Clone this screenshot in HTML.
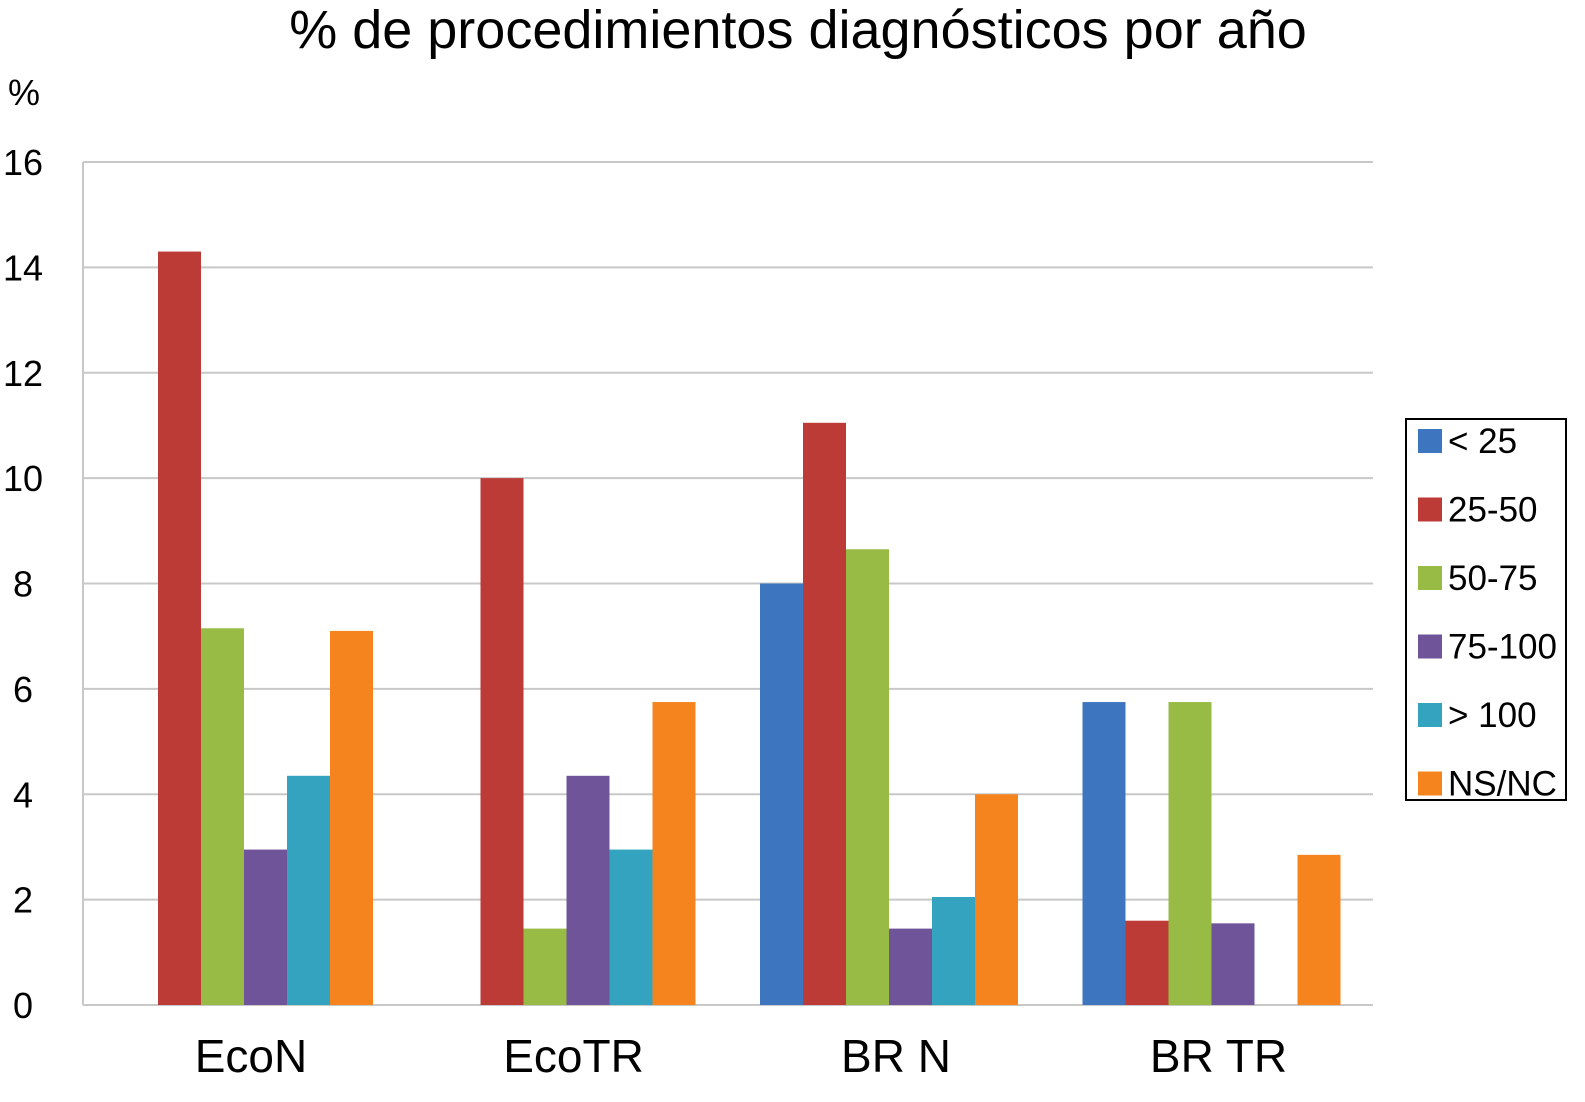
<!DOCTYPE html>
<html><head><meta charset="utf-8"><style>
body{margin:0;background:#fff;}
svg text{font-family:"Liberation Sans",sans-serif;fill:#000;}
</style></head><body>
<svg id="chart" width="1585" height="1097" xmlns="http://www.w3.org/2000/svg">
<text x="798" y="48" font-size="54" text-anchor="middle">% de procedimientos diagnósticos por año</text>
<text x="8" y="105" font-size="36">%</text>
<g id="grid"></g><g id="bars"></g><g id="xlabels"></g>
<g>
<rect x="1406" y="419" width="160" height="381" fill="#fff" stroke="#000" stroke-width="2"/>
<g id="legend"></g></g>
</svg>
<script>
const categories=["EcoN","EcoTR","BR N","BR TR"];
const seriesNames=["< 25","25-50","50-75","75-100","> 100","NS/NC"];
const s1=[0,0,8.0,5.75];
const s2=[14.3,10.0,11.05,1.6];
const s3=[7.15,1.45,8.65,5.75];
const s4=[2.95,4.35,1.45,1.55];
const s5=[4.35,2.95,2.05,0];
const s6=[7.1,5.75,4.0,2.85];
const yTicks=[0,2,4,6,8,10,12,14,16];
const series=[s1,s2,s3,s4,s5,s6];
const colors=["#3d76bf","#bd3b37","#97bb45","#70549a","#33a3c0","#f5841f"];
const NS="http://www.w3.org/2000/svg";
const x0=83,x1=1373,yb=1005,yt=162,ymax=16;
const y=v=>yb-(v/ymax)*(yb-yt);
const gw=(x1-x0)/categories.length,bw=43;
const gx=i=>x0+i*gw+32;
function mk(t,a,p){const e=document.createElementNS(NS,t);for(const k in a)e.setAttribute(k,a[k]);p.appendChild(e);return e;}
const grid=document.getElementById('grid');
yTicks.forEach(t=>{
 const l=mk('line',{x1:x0,x2:x1,y1:y(t),y2:y(t),stroke:'#c8c8c8','stroke-width':2},grid);
 
 
 const tx=mk('text',{x:23,y:y(t)+13,'font-size':36,'text-anchor':'middle'},grid);tx.textContent=t;
 
 
});
const ax=mk('line',{x1:x0,x2:x0,y1:yt,y2:yb,stroke:'#c8c8c8','stroke-width':2},grid);


const bars=document.getElementById('bars');
series.forEach((s,si)=>s.forEach((v,ci)=>{
 if(v<=0)return;
 const r=mk('rect',{x:gx(ci)+si*bw,y:y(v),width:bw,height:yb-y(v),fill:colors[si]},bars);
 
 
}));
const xl=document.getElementById('xlabels');
categories.forEach((c,i)=>{
 const t=mk('text',{x:gx(i)+bw*3+7,y:1072,'font-size':46,'text-anchor':'middle'},xl);t.textContent=c;
 
 
});
const lg=document.getElementById('legend');
seriesNames.forEach((n,i)=>{
 const cy=441+i*68.5;
 const r=mk('rect',{x:1418,y:cy-12,width:24,height:24,fill:colors[i]},lg);
 
 
 const t=mk('text',{x:1448,y:cy+12,'font-size':35},lg);t.textContent=n;
 
 
});
</script>
</body></html>
